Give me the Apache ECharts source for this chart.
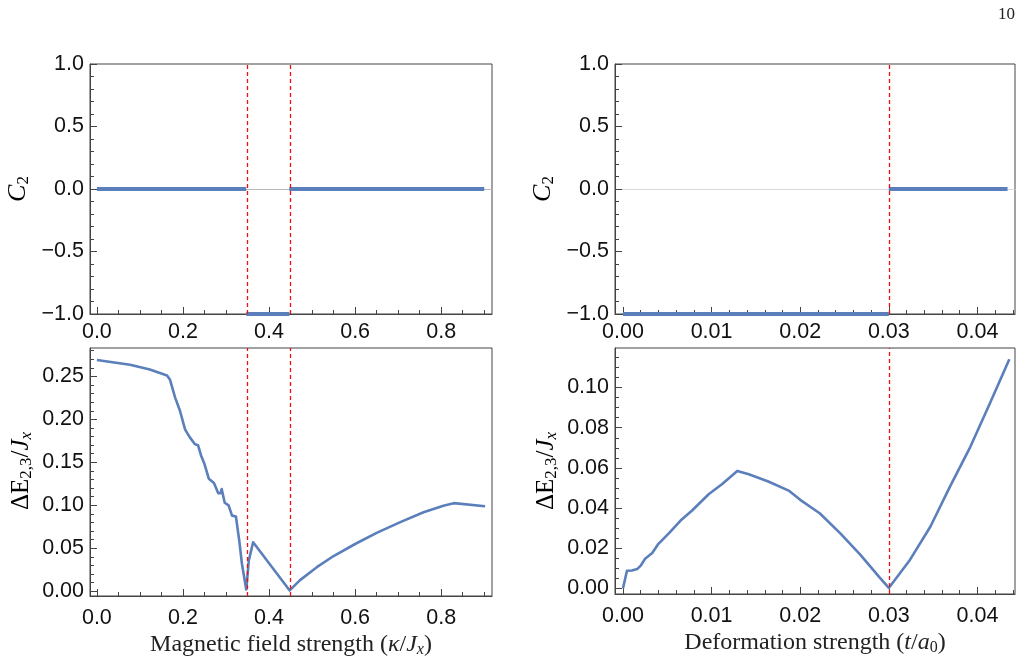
<!DOCTYPE html>
<html>
<head>
<meta charset="utf-8">
<script src="https://cdn.jsdelivr.net/npm/echarts@6/dist/echarts.min.js"></script>
<style>
  html, body { margin: 0; padding: 0; background: #fff; }
  #chart { width: 1026px; height: 665px; }
</style>
</head>
<body>
<div id="chart"></div>
<script>
// magnetic field sweep (left column)
const kappa = [0, 0.077, 0.123, 0.163, 0.170, 0.182, 0.193, 0.205, 0.216, 0.228, 0.235, 0.242, 0.250, 0.260, 0.272, 0.282, 0.287, 0.290, 0.297, 0.306, 0.314, 0.323, 0.331, 0.337, 0.347, 0.353, 0.363, 0.448, 0.472, 0.511, 0.550, 0.600, 0.650, 0.705, 0.759, 0.805, 0.829, 0.902];
const gapKappa = [0.269, 0.2636, 0.258, 0.251, 0.246, 0.225, 0.210, 0.188, 0.179, 0.171, 0.170, 0.158, 0.148, 0.131, 0.126, 0.114, 0.114, 0.119, 0.103, 0.100, 0.088, 0.087, 0.058, 0.032, 0.002, 0.036, 0.057, 0.001, 0.013, 0.028, 0.041, 0.055, 0.068, 0.0805, 0.092, 0.0995, 0.1025, 0.099];
// chern number segments: [from, to, value]
const c2Kappa = [[0, 0.347, 0], [0.347, 0.447, -1], [0.447, 0.9, 0]];
const transKappa = [0.347, 0.447];

// deformation sweep (right column)
const deform = [0, 0.00045, 0.0010, 0.0016, 0.0020, 0.0025, 0.0033, 0.0040, 0.0052, 0.0065, 0.0078, 0.0097, 0.0112, 0.0129, 0.0142, 0.0164, 0.0187, 0.0200, 0.0222, 0.0245, 0.0268, 0.0290, 0.0300, 0.0324, 0.0347, 0.0369, 0.0392, 0.0414, 0.0436];
const gapDeform = [0, 0.0088, 0.0089, 0.0096, 0.0113, 0.0148, 0.0176, 0.0222, 0.0275, 0.0338, 0.0388, 0.0470, 0.0520, 0.0585, 0.0568, 0.0532, 0.0487, 0.0441, 0.0374, 0.0275, 0.0167, 0.0052, 0.0002, 0.0143, 0.0308, 0.0507, 0.0705, 0.0921, 0.1141];
const c2Deform = [[0, 0.0300, -1], [0.0300, 0.0434, 0]];
const transDeform = [0.0300];

// tick labels
const ticksKappa = [0, 0.2, 0.4, 0.6, 0.8];
const ticksC2 = [-1, -0.5, 0, 0.5, 1];
const ticksGapKappa = [0, 0.05, 0.10, 0.15, 0.20, 0.25];
const ticksDeform = [0, 0.01, 0.02, 0.03, 0.04];
const ticksGapDeform = [0, 0.02, 0.04, 0.06, 0.08, 0.10];

const BLUE = '#5b7fbb';
const FRAME = '#444';

function steps(from, to, step) {
  const out = [];
  const n = Math.round((to - from) / step);
  for (let i = 0; i <= n; i++) out.push(Math.round((from + i * step) * 1e6) / 1e6);
  return out;
}
function fmt(d) {
  return v => v.toFixed(d).replace('-', '\u2212');
}

function serifRich(size) {
  const sub = Math.round(size * 0.66);
  const drop = Math.round(size * 0.45);
  return {
    n: { fontFamily: 'Liberation Serif', fontSize: size, color: '#222' },
    i: { fontFamily: 'Liberation Serif', fontStyle: 'italic', fontSize: size, color: '#222' },
    s: { fontFamily: 'Liberation Serif', fontSize: sub, color: '#222', padding: [drop, 0, 0, 0] },
    si: { fontFamily: 'Liberation Serif', fontStyle: 'italic', fontSize: sub, color: '#222', padding: [drop, 0, 0, 0] }
  };
}

function axisPair(dim, grid, min, max, majors, minors, digits, margin, name, nameGap, nameSize) {
  const pos = dim === 'x' ? 'bottom' : 'left';
  const major = {
    type: 'value', gridIndex: grid, min: min, max: max, position: pos,
    axisLine: { show: true, onZero: false, lineStyle: { color: FRAME, width: 1 } },
    axisTick: { show: true, inside: true, length: 7, customValues: majors, lineStyle: { color: FRAME } },
    axisLabel: { customValues: majors, formatter: fmt(digits), margin: margin,
      fontFamily: 'Liberation Sans', fontSize: 21.5, color: '#111' },
    splitLine: { show: false }
  };
  if (name) {
    major.name = name;
    major.nameLocation = 'middle';
    major.nameGap = nameGap;
    major.nameTextStyle = { rich: serifRich(nameSize || 22) };
  }
  const minor = {
    type: 'value', gridIndex: grid, min: min, max: max, position: pos,
    axisLine: { show: false, onZero: false },
    axisTick: { show: true, inside: true, length: 4, customValues: minors, lineStyle: { color: FRAME } },
    axisLabel: { show: false },
    splitLine: { show: false }
  };
  return [major, minor];
}

// the thin horizontal axis through zero in the chern-number panels
function zeroAxis(grid, min, max, color) {
  return {
    type: 'value', gridIndex: grid, min: min, max: max, position: 'bottom',
    axisLine: { show: true, onZero: true, lineStyle: { color: color, width: 1 } },
    axisTick: { show: false }, axisLabel: { show: false }, splitLine: { show: false }
  };
}

const grids = [
  { left: 90, top: 64, width: 402, height: 250 },
  { left: 90, top: 348, width: 402, height: 248 },
  { left: 615, top: 64, width: 400, height: 250 },
  { left: 615, top: 348, width: 400, height: 246 }
].map(g => Object.assign(g, { show: true, borderColor: FRAME, borderWidth: 1, backgroundColor: 'transparent' }));

const c2Name = '{i|C}{s|2}';
const gapName = '{n|\u0394E}{s|2,3}{n|/}{i|J}{si|x}';

const xAxes = [].concat(
  axisPair('x', 0, -0.016, 0.918, ticksKappa, steps(0, 0.9, 0.05), 1, 7),
  axisPair('x', 1, -0.016, 0.918, ticksKappa, steps(0, 0.9, 0.05), 1, 11,
    '{n|Magnetic field strength (}{i|\u03BA}{n|/}{i|J}{si|x}{n|)}', 35, 24),
  axisPair('x', 2, -0.0009, 0.04424, ticksDeform, steps(0, 0.044, 0.002), 2, 7),
  axisPair('x', 3, -0.0009, 0.04424, ticksDeform, steps(0, 0.044, 0.002), 2, 11,
    '{n|Deformation strength (}{i|t}{n|/}{i|a}{s|0}{n|)}', 35, 24),
  zeroAxis(0, -0.016, 0.918, '#b8b8b8'),
  zeroAxis(2, -0.0009, 0.04424, '#d8d8d8')
);
const yAxes = [].concat(
  axisPair('y', 0, -1, 1, ticksC2, steps(-1, 1, 0.1), 1, 6),
  axisPair('y', 1, -0.0055, 0.283, ticksGapKappa, steps(0, 0.28, 0.01), 2, 6),
  axisPair('y', 2, -1, 1, ticksC2, steps(-1, 1, 0.1), 1, 6),
  axisPair('y', 3, -0.0028, 0.1197, ticksGapDeform, steps(0, 0.115, 0.005), 2, 6)
);

// rotated y titles, placed as text so they sit where the reference has them
function sideTitle(text, size, x, y) {
  return {
    type: 'text', x: x, y: y, rotation: Math.PI / 2, silent: true,
    style: { text: text, rich: serifRich(size), align: 'center', verticalAlign: 'middle' }
  };
}

function zip(xs, ys) { return xs.map((x, i) => [x, ys[i]]); }

function chernSeries(grid, segs) {
  return segs.map(s => ({
    type: 'line', xAxisIndex: 2 * grid, yAxisIndex: 2 * grid, z: 3,
    data: [[s[0], s[2]], [s[1], s[2]]],
    showSymbol: false, lineStyle: { color: BLUE, width: 4 }, silent: true
  }));
}
function transLines(grid, xs) {
  return {
    type: 'line', xAxisIndex: 2 * grid, yAxisIndex: 2 * grid, z: 5, data: [], silent: true,
    markLine: { symbol: 'none', silent: true, label: { show: false }, animation: false,
      lineStyle: { color: '#ee1111', width: 1.3, type: [4, 3] },
      data: xs.map(x => ({ xAxis: x })) }
  };
}
function gapSeries(grid, xs, ys) {
  return {
    type: 'line', xAxisIndex: 2 * grid, yAxisIndex: 2 * grid, z: 3,
    data: zip(xs, ys), showSymbol: false, silent: true,
    lineStyle: { color: BLUE, width: 2.6, join: 'round' }
  };
}

const series = [].concat(
  chernSeries(0, c2Kappa), transLines(0, transKappa),
  gapSeries(1, kappa, gapKappa), transLines(1, transKappa),
  chernSeries(2, c2Deform), transLines(2, transDeform),
  gapSeries(3, deform, gapDeform), transLines(3, transDeform)
);

const chart = echarts.init(document.getElementById('chart'), null, { renderer: 'canvas' });
chart.setOption({
  animation: false,
  backgroundColor: '#fff',
  grid: grids,
  xAxis: xAxes,
  yAxis: yAxes,
  series: series,
  graphic: [
    sideTitle(c2Name, 26, 18, 189),
    sideTitle(c2Name, 26, 543, 189),
    sideTitle(gapName, 25, 21, 471),
    sideTitle(gapName, 25, 546, 471),
    {
      type: 'text', right: 11, top: 6,
      style: { text: '10', fontFamily: 'Liberation Serif', fontSize: 17, fill: '#222' }
    }
  ]
});
</script>
</body>
</html>
